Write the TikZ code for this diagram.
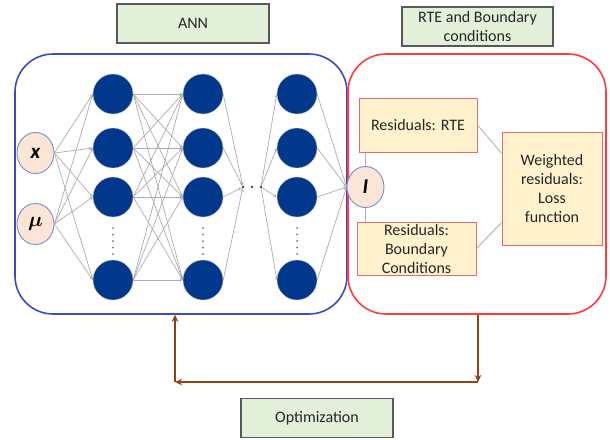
\documentclass[tikz,border=0pt]{standalone}
\usepackage{amsmath}
\usepackage{fontspec}
\setmainfont{Carlito}
\usetikzlibrary{shapes,arrows.meta}

\definecolor{neuronblue}{HTML}{02388C}
\definecolor{inputpeach}{HTML}{FBE5D6}
\definecolor{ringblue}{HTML}{6F8FC9}
\definecolor{headgreen}{HTML}{E2F0D9}
\definecolor{resyellow}{HTML}{FFF2CC}
\definecolor{resred}{HTML}{E86A6A}
\definecolor{panelblue}{HTML}{3C48C6}
\definecolor{panelred}{HTML}{FF3B3B}
\definecolor{optbrown}{HTML}{8B4513}

\begin{document}
\begin{tikzpicture}[x=1pt,y=-1pt,
            font=\fontsize{16}{19}\selectfont,
            neuron/.style={circle,fill=neuronblue,draw=gray!50,line width=0.4pt,minimum size=40pt,inner sep=0pt},
            var/.style={ellipse,fill=inputpeach,draw=ringblue,line width=0.9pt,minimum width=37pt,minimum height=41pt,inner sep=0pt,font=\fontsize{21}{21}\selectfont},
            header/.style={rectangle,fill=headgreen,draw=black!65,line width=1.1pt,minimum width=152pt,minimum height=39pt,inner sep=1pt,align=center,text=black!85},
            resbox/.style={rectangle,fill=resyellow,draw=resred,line width=1pt,inner sep=0pt,align=center,text=black!85},
            panel/.style={rectangle,rounded corners=38pt,line width=1.6pt,minimum height=260pt},
            link/.style={gray!65,line width=0.7pt,-{Stealth[length=3.5pt,width=3pt]}},
            wire/.style={gray!60,line width=0.9pt},
            optarrow/.style={optbrown,line width=2.2pt,-{Stealth[length=7pt,width=6.5pt]}},
            smalldot/.style={circle,fill=black!75,inner sep=0pt,minimum size=2.6pt}]
            \useasboundingbox (0,0) rectangle (610,439);

            % Draw panels
            \node[panel,draw=panelblue,minimum width=332pt] (annpanel) at (181,184) {};
            \node[panel,draw=panelred,minimum width=258pt] (rtepanel) at (477,184) {};

            % Add headers
            \node[header] (annhead) at (193,23.5) {ANN};
            \node[header,minimum width=151pt] (rtehead) at (477.5,26.5) {RTE and Boundary\\conditions};
            \node[header] (opthead) at (317,418) {Optimization};

            % Draw network
            \node[var] (inx) at (35.5,153) {\textbf{\textit{x}}};
            \node[var] (inmu) at (35.5,224) {$\boldsymbol{\mu}$};
            \foreach \c/\x in {1/113,2/203,3/297}
                \foreach \r/\y in {1/94,2/148,3/197,4/280}
                    \node[neuron] (n\c\r) at (\x,\y) {};
            \foreach \x in {113,203,297}
                \foreach \k in {0,...,4}
                    \fill[black!55] (\x,228+6.5*\k) circle (1pt);
            \node[smalldot] (dotA) at (243,187) {};
            \node[smalldot] (dotB) at (252,187) {};
            \node[smalldot] (dotC) at (261,187) {};
            \node[var] (outI) at (365.5,187) {\textbf{\textit{I}}};

            \foreach \r in {1,...,4} {
                \draw[link] (inx.east) -- (n1\r.west);
                \draw[link] (inmu.east) -- (n1\r.west);
                \foreach \s in {1,...,4}
                    \draw[link] (n1\r.east) -- (n2\s.west);
                \draw[link] (n2\r.east) -- (dotA);
                \draw[link] (dotC) -- (n3\r.west);
                \draw[link] (n3\r.east) -- (outI.west);
            }

            % Residual boxes
            \node[resbox,minimum width=118pt,minimum height=54pt] (resRTE) at (418,125) {Residuals: RTE};
            \node[resbox,minimum width=119pt,minimum height=53pt] (resBC) at (416.5,248.5) {Residuals:\\Boundary\\Conditions};
            \node[resbox,minimum width=100pt,minimum height=113pt] (loss) at (552,188.5) {Weighted\\residuals:\\Loss\\function};

            \draw[wire] (outI.north) -- (outI.north |- resRTE.south);
            \draw[wire] (outI.south) -- (outI.south |- resBC.north);
            \draw[wire] (resRTE.east) -- (loss.145);
            \draw[wire] (resBC.east) -- (loss.214);

            % Optimization loop
            \coordinate (lossdrop) at (478,382);
            \coordinate (anncorner) at (175,382);
            \draw[optarrow] (rtepanel.south -| lossdrop) -- (lossdrop);
            \draw[optarrow] (lossdrop) -- (anncorner);
            \draw[optarrow] (anncorner) -- (anncorner |- annpanel.south);
        \end{tikzpicture}
\end{document}
